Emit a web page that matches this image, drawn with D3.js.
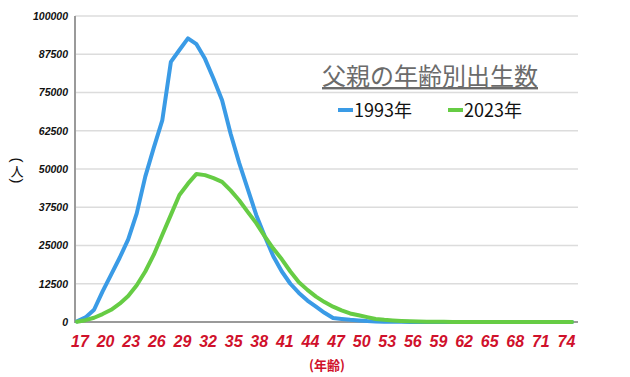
<!DOCTYPE html>
<html>
<head>
<meta charset="utf-8">
<script src="https://cdn.jsdelivr.net/npm/d3@7"></script>
<style>
  body { margin: 0; background: #fff; }
  svg { display: block; }
</style>
</head>
<body>
<div id="viz"></div>
<script>
// ages 17..75
const ages = d3.range(17, 76);

const births1993 = [200, 1500, 4000, 10000, 15500, 21000, 27000, 35500, 47500, 57000,
  66000, 85000, 88900, 92700, 90800, 86000, 79500, 72500, 61500, 52000,
  43500, 35000, 28000, 21500, 16500, 12500, 9500, 7000, 5000, 3000,
  1300, 1000, 700, 500, 300, 200, 100, 80, 60, 40,
  30, 20, 10, 0, 0, 0, 0, 0, 0, 0,
  0, 0, 0, 0, 0, 0, 0, 0, 0];

const births2023 = [100, 600, 1400, 2600, 4000, 6000, 8500, 12000, 16500, 22000,
  28500, 35000, 41500, 45200, 48400, 48000, 47000, 45800, 43000, 39800,
  36000, 32300, 28000, 24000, 20500, 16500, 13000, 10500, 8300, 6500,
  5000, 3800, 2800, 2200, 1600, 1000, 700, 500, 350, 250,
  180, 120, 80, 60, 40, 30, 20, 15, 10, 10,
  5, 5, 5, 5, 5, 5, 5, 5, 5];

const xTicks = [17, 20, 23, 26, 29, 32, 35, 38, 41, 44, 47, 50, 53, 56, 59, 62, 65, 68, 71, 74];
const yTicks = [0, 12500, 25000, 37500, 50000, 62500, 75000, 87500, 100000];

const seriesNames = ['1993年', '2023年'];
const colors = ['#3a9be6', '#66cc44'];

const w = 630;
const h = 377;

const svg = d3.select('#viz').
append('svg').
attr('width', w).
attr('height', h);

const x = d3.scaleLinear().domain([17, 75]).range([77, 572]);
const y = d3.scaleLinear().domain([0, 100000]).range([322, 16]);

// grid
svg.append('g').
selectAll('line').
data(yTicks.slice(1)).
enter().
append('line').
attr('x1', 75).
attr('x2', 578).
attr('y1', d => y(d)).
attr('y2', d => y(d)).
attr('stroke', '#dcdcdc').
attr('stroke-width', 1.5);

// y axis labels
const yAxis = d3.axisLeft(y).tickValues(yTicks).tickSize(0).tickPadding(7).tickFormat(d => d);
const gy = svg.append('g').
attr('transform', 'translate(75,0)').
call(yAxis);
gy.select('.domain').remove();
gy.selectAll('text').
attr('font-family', 'Liberation Sans, Arial, sans-serif').
attr('font-size', 10.5).
attr('font-weight', 'bold').
attr('font-style', 'italic').
attr('fill', '#111');

// x axis labels
const xAxis = d3.axisBottom(x).tickValues(xTicks).tickSize(0).tickPadding(14);
const gx = svg.append('g').
attr('transform', 'translate(0,322)').
call(xAxis);
gx.select('.domain').remove();
gx.selectAll('text').
attr('font-family', 'Liberation Sans, Arial, sans-serif').
attr('font-size', 16).
attr('font-weight', 'bold').
attr('font-style', 'italic').
attr('fill', '#d0112b').
attr('dx', 2.5);

// axis lines
svg.append('line').
attr('x1', 75).attr('x2', 75).attr('y1', 16).attr('y2', 323).
attr('stroke', '#9a9a9a').attr('stroke-width', 2);
svg.append('line').
attr('x1', 74).attr('x2', 578).attr('y1', 322).attr('y2', 322).
attr('stroke', '#9a9a9a').attr('stroke-width', 2);

// lines
const line = d3.line().
x((d, i) => x(ages[i])).
y(d => y(d));

[births1993, births2023].forEach((s, k) => {
  svg.append('path').
  datum(s).
  attr('d', line).
  attr('fill', 'none').
  attr('stroke', colors[k]).
  attr('stroke-width', 4).
  attr('stroke-linejoin', 'round').
  attr('stroke-linecap', 'round');
});

// title
svg.append('text').
attr('x', 430).
attr('y', 85).
attr('text-anchor', 'middle').
attr('font-family', 'Noto Sans CJK JP, sans-serif').
attr('font-size', 24).
attr('fill', '#6b6b6b').
style('text-decoration', 'underline').
text('父親の年齢別出生数');

// legend
const legendX = [338, 448];
seriesNames.forEach((name, k) => {
  svg.append('line').
  attr('x1', legendX[k]).attr('x2', legendX[k] + 15).
  attr('y1', 110).attr('y2', 110).
  attr('stroke', colors[k]).attr('stroke-width', 4);
  svg.append('text').
  attr('x', legendX[k] + 16).
  attr('y', 117).
  attr('font-family', 'Noto Sans CJK JP, sans-serif').
  attr('font-size', 18).
  attr('fill', '#111').
  text(name);
});

// y axis title, written vertically: ( 人 )
const parenFont = 'Liberation Sans, Arial, sans-serif';
svg.append('text').
attr('transform', 'translate(17,160) rotate(90)').
attr('text-anchor', 'middle').
attr('dy', '0.32em').
attr('font-family', parenFont).
attr('font-size', 15).
attr('fill', '#111').
text('(');
svg.append('text').
attr('x', 17).
attr('y', 176).
attr('text-anchor', 'middle').
attr('font-family', 'Noto Sans CJK JP, sans-serif').
attr('font-size', 13).
attr('fill', '#111').
text('人');
svg.append('text').
attr('transform', 'translate(17,181) rotate(90)').
attr('text-anchor', 'middle').
attr('dy', '0.32em').
attr('font-family', parenFont).
attr('font-size', 15).
attr('fill', '#111').
text(')');

// x axis title
svg.append('text').
attr('x', 327).
attr('y', 370).
attr('text-anchor', 'middle').
attr('font-family', 'Noto Sans CJK JP, sans-serif').
attr('font-size', 13).
attr('font-weight', 'bold').
attr('fill', '#d0112b').
text('(年齢)');
</script>
</body>
</html>
